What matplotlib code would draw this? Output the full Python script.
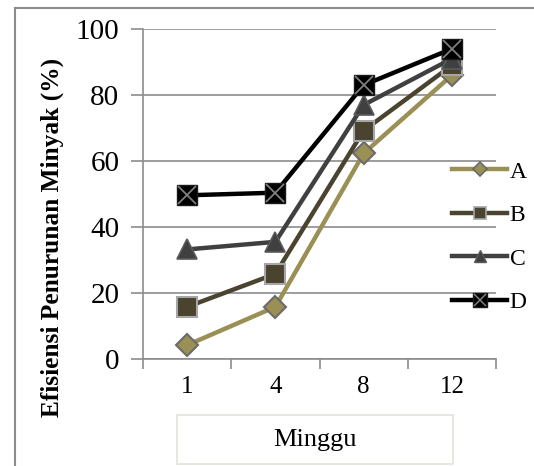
import matplotlib as mpl
mpl.use("Agg")
import matplotlib.pyplot as plt
from matplotlib.patches import Rectangle
from matplotlib.lines import Line2D
from matplotlib.legend_handler import HandlerTuple

mpl.rcParams.update({"font.family": "Liberation Serif"})

weeks = ["1", "4", "8", "12"]
series_names = ["A", "B", "C", "D"]
val_a = [4.2, 15.8, 62.3, 86.0]
val_b = [15.8, 25.8, 69.2, 89.0]
val_c = [33.2, 35.5, 77.0, 91.0]
val_d = [49.6, 50.4, 83.0, 94.0]

GRID = "#8c8c8c"
fig = plt.figure(figsize=(5.34, 4.66), dpi=100)
ax = fig.add_axes([143 / 534, 1 - 359 / 466, (496 - 143) / 534, 330 / 466])

x = range(len(weeks))
ax.plot(x, val_a, color="#9A8F55", lw=3.2, marker="D", ms=11, mfc="#9A8F55",
        mec="#6b6b6b", mew=1.5, zorder=3)
ax.plot(x, val_b, color="#4A4330", lw=3.2, marker="s", ms=14, mfc="#4A4330",
        mec="#a6a6a6", mew=1.5, zorder=4)
ax.plot(x, val_c, color="#404040", lw=3.2, marker="^", ms=14, mfc="#404040",
        mec="#5a5a5a", mew=1.2, zorder=5)
ax.plot(x, val_d, color="#000000", lw=3.2, marker="s", ms=15, mfc="#000000",
        mec="#1a1a1a", mew=1.0, zorder=6)
ax.plot(x, val_d, ls="none", marker="x", ms=13, mec="#7f7f7f", mew=1.3, zorder=7)

ax.set_xlim(-0.5, len(weeks) - 0.5)
ax.set_ylim(0, 100)
ax.set_yticks([0, 20, 40, 60, 80, 100])
ax.set_xticks(x)
ax.set_xticklabels(weeks, fontsize=18)
ax.set_xticks([i - 0.5 for i in range(len(weeks) + 1)], minor=True)
ax.tick_params(axis="x", which="major", length=0, pad=12)
ax.tick_params(axis="x", which="minor", length=7, color=GRID, width=1.2, direction="out")
ax.tick_params(axis="y", labelsize=21, length=9, color=GRID, width=1.2, pad=8)
ax.grid(axis="y", color=GRID, lw=1.2)
ax.set_axisbelow(True)
for s in ["top", "right"]:
    ax.spines[s].set_visible(False)
for s in ["left", "bottom"]:
    ax.spines[s].set_color(GRID)
    ax.spines[s].set_linewidth(1.2)

ax.set_ylabel("Efisiensi Penurunan Minyak (%)", fontsize=18.3, fontweight="bold")
ax.yaxis.set_label_coords((64 - 143) / 353, (359 - 237) / 330)

# legend with smaller markers
la = Line2D([], [], color="#9A8F55", lw=3.2, marker="D", ms=7, mfc="#9A8F55", mec="#6b6b6b", mew=1.2)
lb = Line2D([], [], color="#4A4330", lw=3.2, marker="s", ms=9, mfc="#4A4330", mec="#a6a6a6", mew=1.2)
lc = Line2D([], [], color="#404040", lw=3.2, marker="^", ms=9, mfc="#404040", mec="#5a5a5a", mew=1.0)
ld = Line2D([], [], color="#000000", lw=3.2, marker="s", ms=10, mfc="#000000", mec="#1a1a1a")
ldx = Line2D([], [], ls="none", marker="x", ms=8, mec="#7f7f7f", mew=1.1)
fig.legend([la, lb, lc, (ld, ldx)], series_names, loc="center left",
           bbox_to_anchor=(440 / 534, 1 - 237 / 466), frameon=False, fontsize=17,
           handlelength=2.35, handletextpad=0.1, labelspacing=0.93, borderpad=0,
           handler_map={tuple: HandlerTuple(ndivide=1, pad=0)})

# x-axis title box
fig.patches.append(Rectangle((177 / 534, 1 - 464 / 466), (453 - 177) / 534, (464 - 415) / 466,
                             transform=fig.transFigure, fill=False, ec="#e4e2d8", lw=1.2))
fig.text(315 / 534, 1 - 440 / 466, "Minggu", fontsize=19, ha="center", va="center")

# outer frame lines
fig.add_artist(Line2D([15 / 534, 15 / 534], [0, 1 - 8 / 466], transform=fig.transFigure,
                      color="#8c8c8c", lw=1.5))
fig.add_artist(Line2D([15 / 534, 1], [1 - 8 / 466, 1 - 8 / 466], transform=fig.transFigure,
                      color="#8c8c8c", lw=1.5))

fig.savefig("out.png", dpi=100)
